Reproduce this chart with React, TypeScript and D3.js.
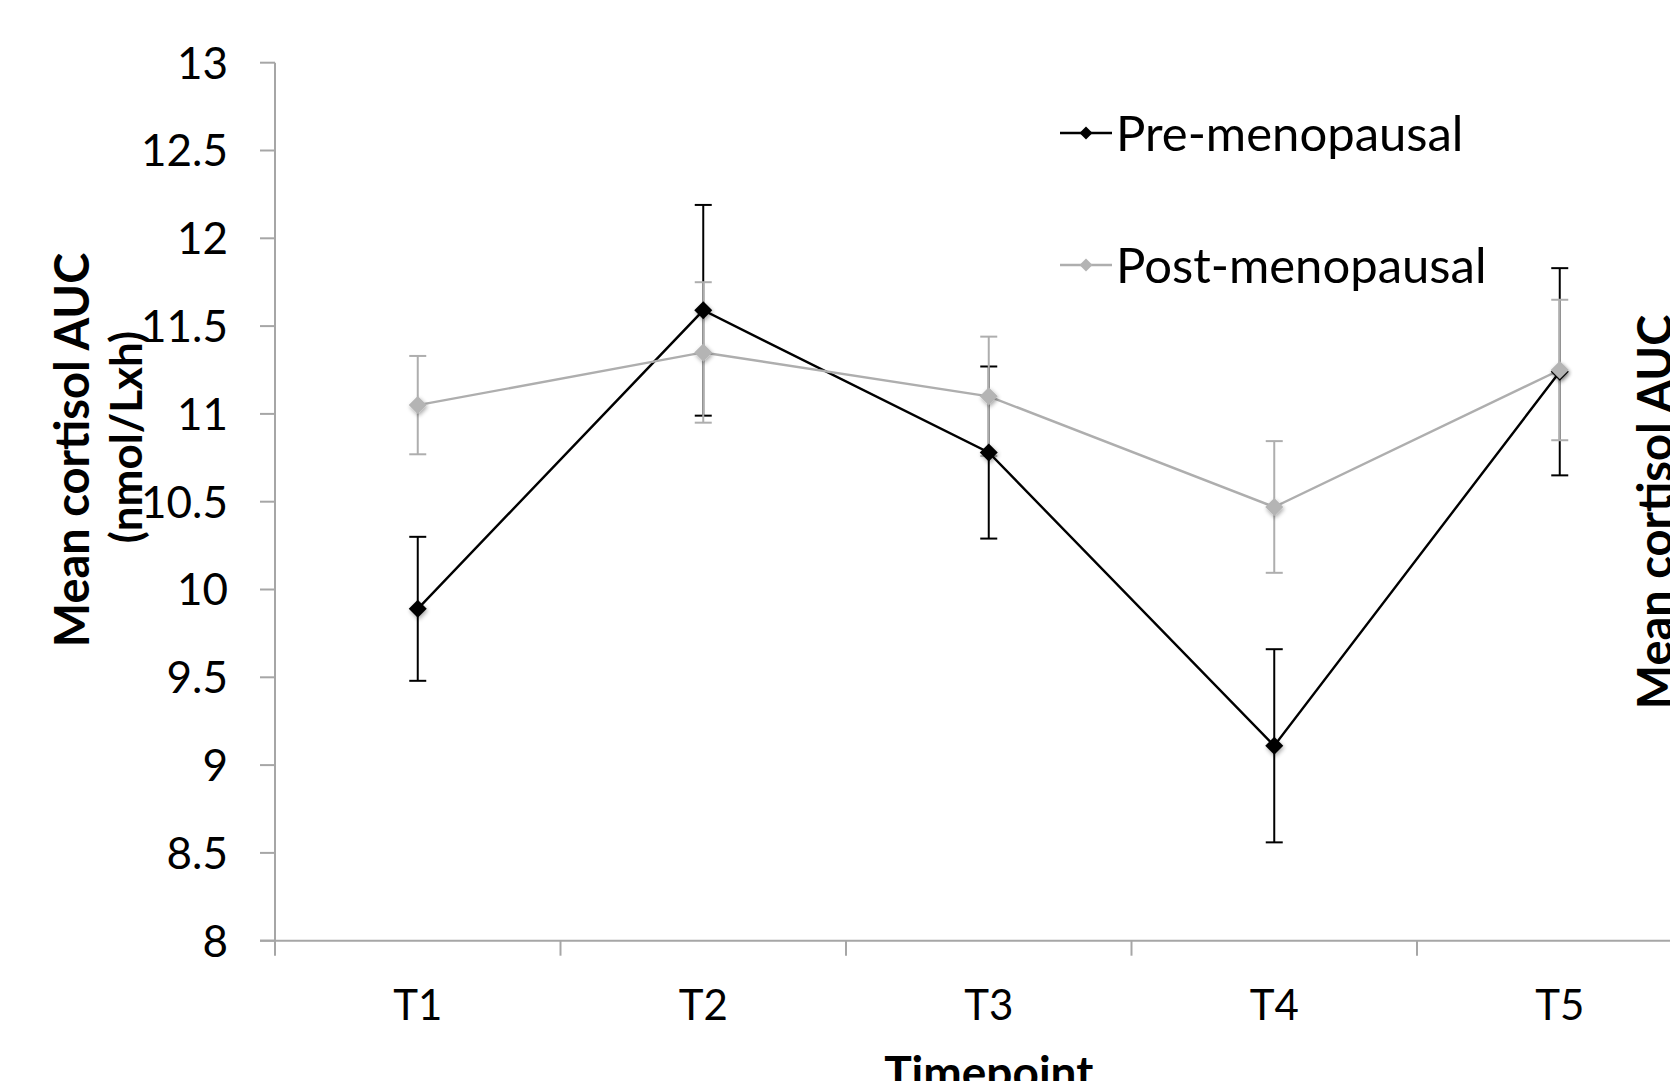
import React from "react";
import * as d3 from "d3";

const categories = ["T1", "T2", "T3", "T4", "T5"];
const preMeans = [9.89, 11.59, 10.78, 9.11, 11.24];
const preErr = [0.41, 0.6, 0.49, 0.55, 0.59];
const postMeans = [11.05, 11.35, 11.1, 10.47, 11.25];
const postErr = [0.28, 0.4, 0.34, 0.375, 0.4];
const yTicks = [8, 8.5, 9, 9.5, 10, 10.5, 11, 11.5, 12, 12.5, 13];
const seriesNames = ["Pre-menopausal", "Post-menopausal"];

const W = 1670;
const H = 1081;
const FONT = "Lato, 'Open Sans', sans-serif";

export default function App() {
  const x = d3.scaleBand().domain(categories).range([275, 275 + 5 * 285.5]).paddingInner(0).paddingOuter(0);
  const y = d3.scaleLinear().domain([8, 13]).range([940.7, 62.7]);
  const cx = (c: string) => (x(c) as number) + x.bandwidth() / 2;
  const line = d3.line<[string, number]>().x((d) => cx(d[0])).y((d) => y(d[1]));

  const series = [
    { name: seriesNames[0], means: preMeans, err: preErr, color: "#000000", marker: "#000000", lw: 2.4 },
    { name: seriesNames[1], means: postMeans, err: postErr, color: "#AEAEAE", marker: "#B4B4B4", lw: 2.4 },
  ];
  const diamond = (px: number, py: number, r: number) =>
    `M${px},${py - r}L${px + r},${py}L${px},${py + r}L${px - r},${py}Z`;
  const axisColor = "#A6A6A6";
  const x0 = 275;
  const x1 = 275 + 5 * 285.5;

  return (
    <svg width={W} height={H} style={{ position: "absolute", left: 0, top: 0, background: "#fff" }} fontFamily={FONT}>
      <defs>
        <filter id="sh" x="-50%" y="-50%" width="200%" height="200%">
          <feGaussianBlur in="SourceAlpha" stdDeviation="2" />
          <feOffset dx="1" dy="2" result="b" />
          <feComponentTransfer><feFuncA type="linear" slope="0.35" /></feComponentTransfer>
          <feMerge><feMergeNode /><feMergeNode in="SourceGraphic" /></feMerge>
        </filter>
      </defs>
      {/* axes */}
      <line x1={x0} x2={x0} y1={y(13)} y2={y(8) + 15} stroke={axisColor} strokeWidth={2} />
      <line x1={x0 - 15} x2={x1} y1={y(8)} y2={y(8)} stroke={axisColor} strokeWidth={2} />
      {yTicks.map((t) => (
        <g key={t}>
          <line x1={x0 - 15} x2={x0} y1={y(t)} y2={y(t)} stroke={axisColor} strokeWidth={2} />
          <text x={228} y={y(t)} dy="0.36em" textAnchor="end" fontSize={44} fill="#000">{t}</text>
        </g>
      ))}
      {categories.map((c) => (
        <g key={c}>
          <line x1={(x(c) as number) + x.bandwidth()} x2={(x(c) as number) + x.bandwidth()} y1={y(8)} y2={y(8) + 15} stroke={axisColor} strokeWidth={2} />
          <text x={cx(c)} y={1005} dy="0.36em" textAnchor="middle" fontSize={42} fill="#000">{c}</text>
        </g>
      ))}
      {/* axis titles */}
      <text transform={`translate(72,${450}) rotate(-90)`} textAnchor="middle" dy="0.36em" fontSize={47} fontWeight="bold">Mean cortisol AUC</text>
      <text transform={`translate(126,${437}) rotate(-90)`} textAnchor="middle" dy="0.36em" fontSize={44} fontWeight="bold">(nmol/Lxh)</text>
      <text transform={`translate(1655,${512}) rotate(-90)`} textAnchor="middle" dy="0.36em" fontSize={47} fontWeight="bold">Mean cortisol AUC</text>
      <text x={(x0 + x1) / 2} y={1072} textAnchor="middle" dy="0.36em" fontSize={46} fontWeight="bold">Timepoint</text>

      {/* error bars */}
      {series.map((s) => (
        <g key={s.name + "e"} stroke={s.color} strokeWidth={2}>
          {categories.map((c, i) => (
            <g key={c}>
              <line x1={cx(c)} x2={cx(c)} y1={y(s.means[i] + s.err[i])} y2={y(s.means[i] - s.err[i])} />
              <line x1={cx(c) - 8.5} x2={cx(c) + 8.5} y1={y(s.means[i] + s.err[i])} y2={y(s.means[i] + s.err[i])} />
              <line x1={cx(c) - 8.5} x2={cx(c) + 8.5} y1={y(s.means[i] - s.err[i])} y2={y(s.means[i] - s.err[i])} />
            </g>
          ))}
        </g>
      ))}
      {/* lines */}
      {series.map((s) => (
        <path key={s.name + "l"} d={line(categories.map((c, i) => [c, s.means[i]]) as [string, number][]) as string} fill="none" stroke={s.color} strokeWidth={s.lw} />
      ))}
      {/* markers */}
      {series.map((s) => (
        <g key={s.name + "m"} filter="url(#sh)">
          {categories.map((c, i) => (
            <path key={c} d={diamond(cx(c), y(s.means[i]), 9)} fill={s.marker} />
          ))}
        </g>
      ))}
      {/* legend */}
      {series.map((s, i) => {
        const ly = i === 0 ? 133 : 265;
        return (
          <g key={s.name + "lg"}>
            <line x1={1060} x2={1112} y1={ly} y2={ly} stroke={s.color} strokeWidth={2.4} />
            <path d={diamond(1086, ly, 6.5)} fill={s.marker} />
            <text x={1116} y={ly} dy="0.36em" fontSize={49} fill="#000">{s.name}</text>
          </g>
        );
      })}
    </svg>
  );
}
